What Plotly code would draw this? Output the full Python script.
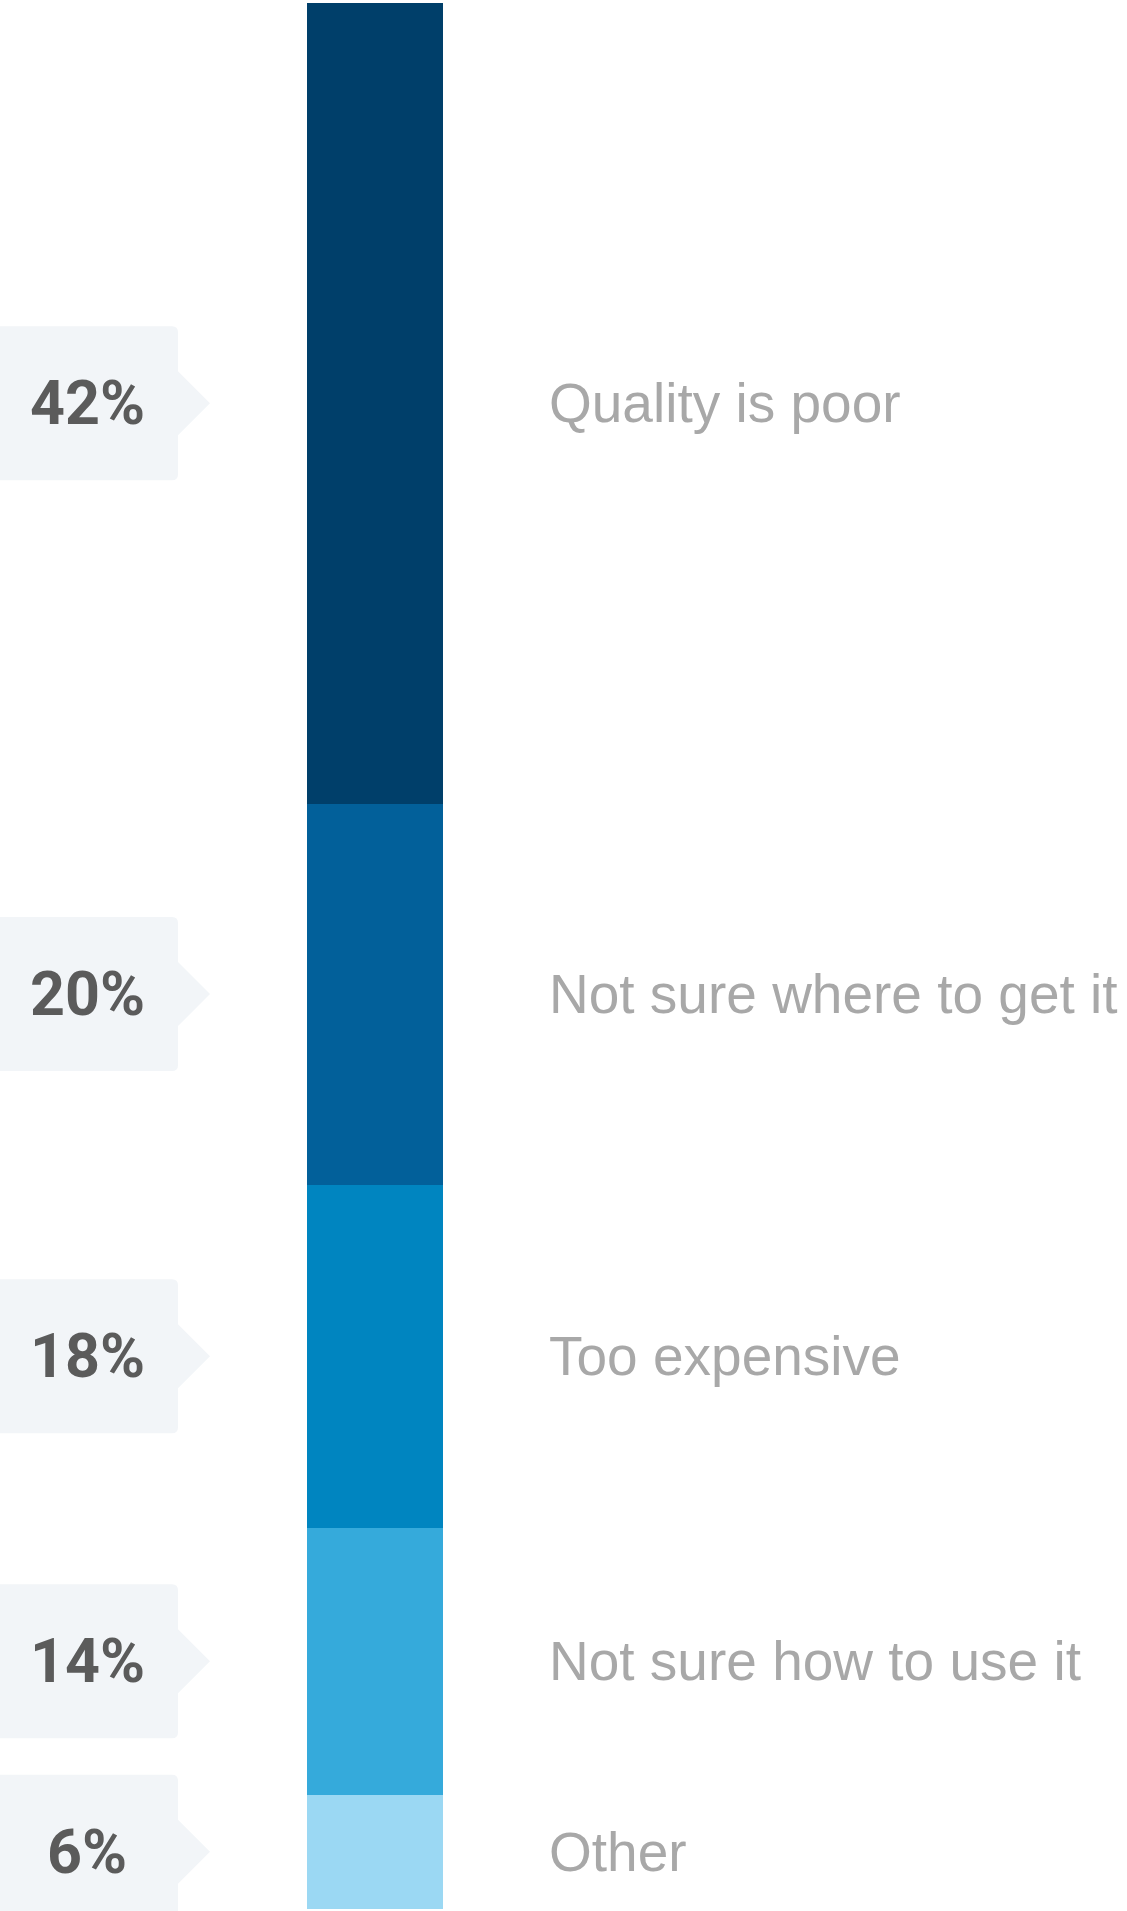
import plotly.graph_objects as go

# Data (top to bottom as displayed)
categories = ["Quality is poor", "Not sure where to get it", "Too expensive",
              "Not sure how to use it", "Other"]
values = [42, 20, 18, 14, 6]
pct_labels = ["42%", "20%", "18%", "14%", "6%"]
colors = ["#003f6a", "#02609a", "#0085c0", "#35aadb", "#9bd8f3"]

W, H = 1127, 1911
BAR_TOP_PX, BAR_BOT_PX = 3, 1909
px_per_unit = (BAR_BOT_PX - BAR_TOP_PX) / 100.0
y_lo = -(H - BAR_BOT_PX) / px_per_unit
y_hi = 100 + BAR_TOP_PX / px_per_unit

BAR_X, BAR_W = 375, 136

fig = go.Figure()

# stack from bottom
order = list(range(len(values)))[::-1]
for i in order:
    fig.add_trace(go.Bar(
        x=[BAR_X], y=[values[i]], width=[BAR_W], name=categories[i],
        marker=dict(color=colors[i], line=dict(width=0)),
        hoverinfo="skip", showlegend=False,
    ))

# compute segment centers
centers = {}
base = 0
for i in order:
    centers[i] = base + values[i] / 2
    base += values[i]

box_w = 178
box_h = 154 / px_per_unit
tip_x = 210
tip_half = 32 / px_per_unit
r = 6
rv = r / px_per_unit

shapes = []
annotations = []
for i in range(len(values)):
    c = centers[i]
    top = c + box_h / 2
    bot = c - box_h / 2
    path = (
        f"M -5,{top} L {box_w - r},{top} Q {box_w},{top} {box_w},{top - rv} "
        f"L {box_w},{c + tip_half} L {tip_x},{c} L {box_w},{c - tip_half} "
        f"L {box_w},{bot + rv} Q {box_w},{bot} {box_w - r},{bot} L -5,{bot} Z"
    )
    shapes.append(dict(type="path", path=path, xref="x", yref="y",
                       fillcolor="#f2f5f8", line=dict(width=0), layer="below"))
    annotations.append(dict(
        x=87, y=c, xref="x", yref="y", text=pct_labels[i], showarrow=False,
        xanchor="center", yanchor="middle",
        font=dict(family="Roboto, Liberation Sans, Arial", size=61,
                  color="#5b5b5b", weight="bold"),
    ))
    annotations.append(dict(
        x=547, y=c, xref="x", yref="y", text=categories[i], showarrow=False,
        xanchor="left", yanchor="middle",
        font=dict(family="Liberation Sans, Arial, Helvetica", size=55,
                  color="#a8a8a8"),
    ))

fig.update_layout(
    width=W, height=H, barmode="stack",
    margin=dict(l=0, r=0, t=0, b=0),
    paper_bgcolor="white", plot_bgcolor="white",
    xaxis=dict(range=[0, W], visible=False, fixedrange=True),
    yaxis=dict(range=[y_lo, y_hi], visible=False, fixedrange=True),
    shapes=shapes, annotations=annotations,
    bargap=0,
)

fig.write_html("out.html", config={"displayModeBar": False},
               post_script="document.body.style.margin='0';")
